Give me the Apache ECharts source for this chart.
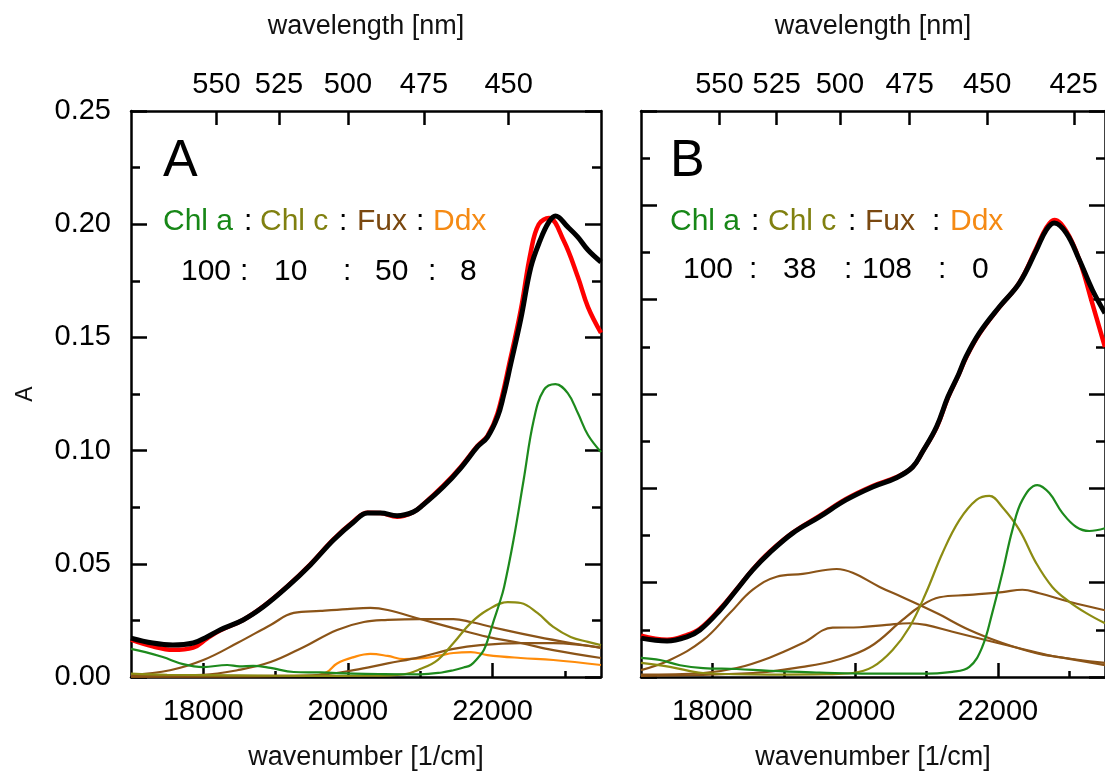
<!DOCTYPE html>
<html>
<head>
<meta charset="utf-8">
<script src="https://cdn.jsdelivr.net/npm/echarts@6/dist/echarts.min.js"></script>
<style>
  html, body { margin: 0; padding: 0; background: #fff; }
  #chart { width: 1105px; height: 776px; }
</style>
</head>
<body>
<div id="chart"></div>
<script>
// ---- axis ticks ----
const wavenumberMajor = [18000, 20000, 22000];
const wavenumberMinor = [19000, 21000, 23000];
const wavelengthTicksA = [550, 525, 500, 475, 450];
const wavelengthTicksB = [550, 525, 500, 475, 450, 425];

// ---- panel A: [wavenumber (1/cm), absorbance] ----
const aMeasured = [[17000,.0165],[17300,.0135],[17580,.012],[17860,.013],[18050,.017],[18230,.0205],[18550,.0252],[18830,.0312],[19160,.040],[19480,.0498],[19800,.0608],[20080,.0688],[20270,.0726],[20450,.0724],[20680,.0708],[20900,.0728],[21040,.0762],[21320,.0845],[21560,.0928],[21790,.102],[21930,.1065],[22070,.1165],[22250,.141],[22390,.162],[22530,.188],[22640,.200],[22780,.2027],[22980,.193],[23180,.1767],[23320,.1634],[23500,.152]];
const aFit = [[17000,.0172],[17300,.015],[17580,.0141],[17860,.015],[18050,.0177],[18230,.0208],[18550,.0252],[18830,.031],[19160,.0398],[19480,.0495],[19800,.0605],[20080,.0685],[20270,.0724],[20450,.0724],[20680,.0712],[20900,.0728],[21040,.076],[21320,.084],[21560,.0923],[21790,.1016],[21930,.106],[22070,.115],[22150,.124],[22250,.138],[22390,.158],[22530,.181],[22660,.193],[22780,.201],[22870,.2036],[23040,.1988],[23180,.1943],[23320,.1886],[23500,.1833]];
const aChlA = [[17000,.0124],[17200,.011],[17440,.0088],[17720,.0057],[18000,.0044],[18330,.0053],[18500,.0047],[18690,.0049],[18930,.004],[19250,.0022],[19620,.002],[20080,.0015],[20500,.0013],[21000,.0012],[21300,.002],[21460,.003],[21600,.0042],[21700,.0053],[21800,.0085],[21880,.0119],[21950,.018],[22020,.0252],[22090,.032],[22160,.0398],[22290,.0605],[22430,.087],[22570,.1135],[22710,.1268],[22870,.1294],[23040,.1254],[23180,.1166],[23320,.1069],[23500,.0994]];
const aChlC = [[17000,.0015],[17500,.001],[18500,.0007],[19500,.0005],[20300,.0006],[20770,.0012],[21000,.0035],[21240,.0075],[21460,.015],[21700,.0239],[21930,.0296],[22210,.0331],[22390,.0327],[22620,.0283],[22840,.0221],[23080,.0177],[23320,.0155],[23500,.0141]];
const aFux1 = [[17000,.001],[17540,.003],[18000,.0075],[18470,.015],[18930,.023],[19250,.0283],[19620,.0292],[19990,.030],[20310,.0305],[20550,.0296],[21000,.0256],[21460,.0216],[21930,.0177],[22390,.015],[22840,.0119],[23500,.0084]];
const aFux2 = [[17000,.0005],[18000,.001],[18470,.003],[18930,.0066],[19390,.0133],[19850,.0208],[20220,.0243],[20550,.0252],[21000,.0256],[21460,.0256],[21700,.0243],[22160,.0208],[22620,.0177],[23080,.015],[23500,.0128]];
const aFux3 = [[17000,.0003],[19000,.0005],[19620,.001],[20080,.003],[20550,.006],[21000,.0088],[21460,.0124],[21830,.0141],[22390,.015],[22840,.015],[23500,.013]];
const aDdx = [[17000,.0003],[19500,.0005],[19700,.002],[19850,.006],[20080,.0088],[20310,.0102],[20550,.0093],[20770,.0079],[21000,.0082],[21240,.0093],[21460,.0106],[21700,.011],[21930,.0097],[22390,.0084],[22840,.0075],[23500,.0053]];

// ---- panel B: [wavenumber (1/cm), absorbance] ----
const bMeasured = [[17000,.0175],[17365,.0158],[17643,.0178],[17825,.0205],[18105,.0288],[18340,.0372],[18566,.0456],[18800,.0530],[19126,.0612],[19500,.0683],[19873,.0755],[20245,.0810],[20580,.0848],[20804,.0890],[20944,.0955],[21140,.1058],[21300,.1185],[21450,.1282],[21550,.1352],[21741,.1455],[22021,.1568],[22300,.1672],[22538,.1818],[22678,.1905],[22790,.1938],[22958,.1890],[23140,.1769],[23322,.1584],[23500,.1399]];
const bFit = [[17000,.0165],[17365,.0153],[17643,.0170],[17825,.0199],[18105,.0283],[18340,.0370],[18566,.0454],[18800,.0526],[19126,.0610],[19500,.0679],[19873,.0751],[20245,.0806],[20580,.0845],[20804,.0890],[20944,.0955],[21140,.1061],[21300,.1188],[21450,.1284],[21550,.1356],[21741,.1459],[22021,.1570],[22300,.1670],[22538,.1810],[22678,.1896],[22790,.1925],[22958,.1882],[23140,.1769],[23322,.1642],[23500,.1543]];
const bChlA = [[17000,.0081],[17266,.0072],[17545,.005],[17871,.0038],[18340,.0034],[18800,.0026],[19500,.0019],[20200,.0014],[20900,.0014],[21360,.0022],[21600,.0043],[21780,.0127],[21920,.0271],[22063,.0442],[22203,.0624],[22343,.0751],[22552,.0814],[22720,.078],[22902,.0696],[23098,.0636],[23280,.0619],[23500,.0631]];
const bChlC = [[17000,.006],[17405,.0043],[17870,.0017],[18800,.001],[19600,.0012],[19965,.0017],[20245,.0043],[20525,.0115],[20760,.0211],[20990,.0355],[21224,.0526],[21460,.0665],[21700,.0751],[21880,.0768],[22063,.072],[22300,.0624],[22538,.0482],[22762,.0382],[23000,.0319],[23238,.0271],[23500,.0228]];
const bFux1 = [[17000,.0029],[17405,.0072],[17870,.0156],[18245,.0271],[18566,.037],[18900,.0425],[19266,.0437],[19741,.0458],[19965,.0442],[20343,.0382],[20664,.0338],[21140,.0271],[21601,.0199],[22063,.0144],[22538,.0101],[23000,.0077],[23500,.005]];
const bFux2 = [[17000,.001],[17870,.0017],[18340,.0038],[18800,.0082],[19266,.0144],[19685,.0209],[20063,.0211],[20441,.0221],[20762,.0228],[20990,.0221],[21364,.0192],[21840,.0156],[22300,.0122],[22762,.0089],[23500,.006]];
const bFux3 = [[17000,.0005],[18566,.0017],[19266,.0043],[19741,.0072],[20203,.0127],[20664,.0242],[20902,.0298],[21182,.0338],[21601,.0348],[22063,.036],[22343,.037],[22580,.0355],[23000,.0319],[23500,.0283]];

const FONT = '"Liberation Sans", Arial, sans-serif';
const C_CHLA = '#1d8a1d';
const C_CHLC = '#8c8c12';
const C_FUX = '#8b5418';
const C_DDX = '#ff8c0a';
const C_CHLA_T = '#178717';
const C_CHLC_T = '#808010';
const C_FUX_T = '#7a4810';
const C_DDX_T = '#f58a14';

const chart = echarts.init(document.getElementById('chart'), null, { renderer: 'canvas' });

const axisLine = { show: true, lineStyle: { color: '#000', width: 2.5 } };
const inv = (arr) => arr.map(l => 1e7 / l);

function bottomMain(grid) {
  return {
    gridIndex: grid, type: 'value', position: 'bottom', min: 17000, max: 23500,
    axisLine, splitLine: { show: false },
    axisTick: { inside: true, length: 14, customValues: wavenumberMajor, lineStyle: { width: 2.5, color: '#000' } },
    axisLabel: { customValues: wavenumberMajor, formatter: v => String(v),
      fontSize: 29, fontFamily: FONT, color: '#000', margin: 20 },
    name: 'wavenumber [1/cm]', nameLocation: 'middle', nameGap: 67,
    nameTextStyle: { fontSize: 27, fontFamily: FONT, color: '#111' }
  };
}
function bottomMinor(grid) {
  return {
    gridIndex: grid, type: 'value', position: 'bottom', min: 17000, max: 23500,
    axisLine: { show: false }, splitLine: { show: false },
    axisTick: { inside: true, length: 6, customValues: wavenumberMinor, lineStyle: { width: 2.5, color: '#000' } },
    axisLabel: { show: false }
  };
}
function topAxis(grid, max, ticks) {
  return {
    gridIndex: grid, type: 'value', position: 'top', min: 17000, max: max,
    axisLine, splitLine: { show: false },
    axisTick: { inside: true, length: 14, customValues: inv(ticks), lineStyle: { width: 2.5, color: '#000' } },
    axisLabel: { customValues: inv(ticks), formatter: v => String(Math.round(1e7 / v)),
      fontSize: 29, fontFamily: FONT, color: '#000', margin: 12 },
    name: 'wavelength [nm]', nameLocation: 'middle', nameGap: 71,
    nameTextStyle: { fontSize: 27, fontFamily: FONT, color: '#111' }
  };
}
function yAxis(grid, pos, max, interval, labels) {
  const ax = {
    gridIndex: grid, type: 'value', position: pos, min: 0, max: max, interval: interval,
    axisLine, splitLine: { show: false },
    axisTick: { inside: true, length: 16, lineStyle: { width: 2.5, color: '#000' } },
    minorTick: { show: true, splitNumber: 2, length: 9, lineStyle: { width: 2.5, color: '#000' } },
    axisLabel: labels
      ? { formatter: v => v.toFixed(2), fontSize: 29, fontFamily: FONT, color: '#000', margin: 20 }
      : { show: false }
  };
  if (labels) {
    ax.name = 'A';
    ax.nameLocation = 'middle';
    ax.nameGap = 94;
    ax.nameTextStyle = { fontSize: 23, fontFamily: FONT, color: '#111' };
  }
  return ax;
}

function line(data, color, width, xi, yi, z) {
  return {
    type: 'line', data, xAxisIndex: xi, yAxisIndex: yi,
    showSymbol: false, smooth: 0.4, z: z || 2,
    lineStyle: { color, width }, itemStyle: { color },
    emphasis: { disabled: true }, silent: true
  };
}

function txt(text, x, y, color, size) {
  return {
    type: 'text', x, y, silent: true,
    style: { text, fill: color, fontSize: size || 30, fontFamily: FONT, verticalAlign: 'middle', align: 'left' }
  };
}

const option = {
  animation: false,
  backgroundColor: '#fff',
  grid: [
    { left: 131, top: 111, width: 470, height: 566 },
    { left: 641, top: 111, width: 466, height: 566 }
  ],
  xAxis: [
    bottomMain(0), bottomMinor(0), topAxis(0, 23500, wavelengthTicksA),
    bottomMain(1), bottomMinor(1), topAxis(1, 24000, wavelengthTicksB)
  ],
  yAxis: [
    yAxis(0, 'left', 0.25, 0.05, true), yAxis(0, 'right', 0.25, 0.05, false),
    yAxis(1, 'left', 0.24, 0.04, false), yAxis(1, 'right', 0.24, 0.04, false)
  ],
  series: [
    line(aDdx, C_DDX, 2.2, 0, 0),
    line(aFux3, C_FUX, 2.2, 0, 0),
    line(aFux2, C_FUX, 2.2, 0, 0),
    line(aFux1, C_FUX, 2.2, 0, 0),
    line(aChlC, C_CHLC, 2.2, 0, 0),
    line(aChlA, C_CHLA, 2.2, 0, 0),
    line(aMeasured, '#ff0000', 4.5, 0, 0, 3),
    line(aFit, '#000000', 5, 0, 0, 4),

    line(bFux3, C_FUX, 2.2, 3, 2),
    line(bFux2, C_FUX, 2.2, 3, 2),
    line(bFux1, C_FUX, 2.2, 3, 2),
    line(bChlC, C_CHLC, 2.2, 3, 2),
    line(bChlA, C_CHLA, 2.2, 3, 2),
    line(bMeasured, '#ff0000', 4.5, 3, 2, 3),
    line(bFit, '#000000', 5, 3, 2, 4)
  ],
  graphic: [
    txt('A', 163, 162, '#000', 52),
    txt('Chl a', 163, 222, C_CHLA_T), txt(':', 244, 222, '#000'),
    txt('Chl c', 260, 222, C_CHLC_T), txt(':', 339, 222, '#000'),
    txt('Fux', 357, 222, C_FUX_T), txt(':', 416, 222, '#000'),
    txt('Ddx', 433, 222, C_DDX_T),
    txt('100', 181, 272, '#000'), txt(':', 240, 272, '#000'),
    txt('10', 274, 272, '#000'), txt(':', 343, 272, '#000'),
    txt('50', 375, 272, '#000'), txt(':', 428, 272, '#000'),
    txt('8', 460, 272, '#000'),

    txt('B', 670, 162, '#000', 52),
    txt('Chl a', 670, 222, C_CHLA_T), txt(':', 751, 222, '#000'),
    txt('Chl c', 768, 222, C_CHLC_T), txt(':', 848, 222, '#000'),
    txt('Fux', 865, 222, C_FUX_T), txt(':', 932, 222, '#000'),
    txt('Ddx', 950, 222, C_DDX_T),
    txt('100', 683, 270, '#000'), txt(':', 749, 270, '#000'),
    txt('38', 783, 270, '#000'), txt(':', 844, 270, '#000'),
    txt('108', 862, 270, '#000'), txt(':', 938, 270, '#000'),
    txt('0', 972, 270, '#000')
  ]
};

chart.setOption(option);
</script>
</body>
</html>
